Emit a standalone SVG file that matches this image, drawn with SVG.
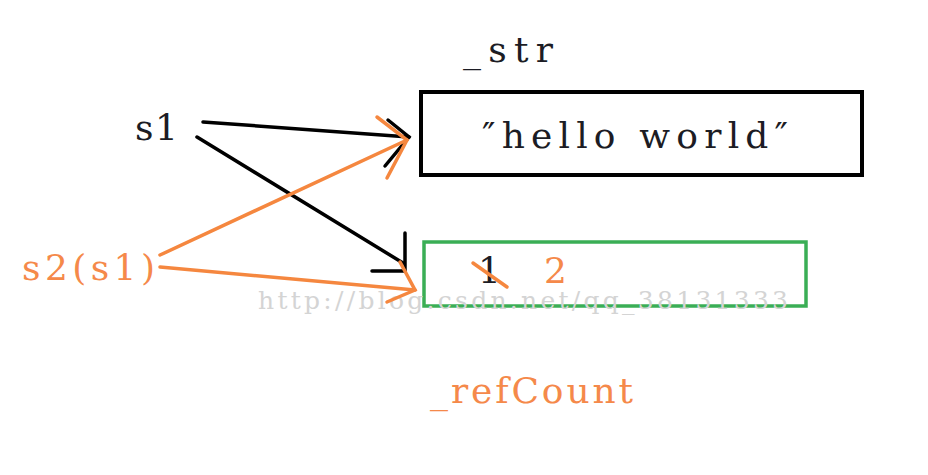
<svg xmlns="http://www.w3.org/2000/svg" width="928" height="475" viewBox="0 0 928 475">
<style>
.t{font-family:"DejaVu Serif","Liberation Serif",serif;font-size:36px}
.dk{fill:#1c1c24}
.or{fill:#f5894a}
.blk{stroke:#000;stroke-width:3.5;fill:none;stroke-linecap:round}
.org{stroke:#f5873f;stroke-width:3.5;fill:none;stroke-linecap:round}
.wm{font-family:"DejaVu Serif","Liberation Serif",serif;font-size:25px;fill:#d4d4d4}
</style>
<rect width="928" height="475" fill="#fff"/>
<g id="str-node">
<text class="t dk" x="463" y="62" textLength="90">_str</text>
<rect x="421" y="92" width="441" height="83" fill="none" stroke="#000" stroke-width="4"/>
<text class="t dk" x="482" y="148" textLength="306">″hello world″</text>
</g>
<g id="refcount-node">
<rect x="424" y="242" width="382" height="64" fill="none" stroke="#3aae55" stroke-width="3.5"/>
<text class="t dk" x="478" y="283">1</text>
<line class="org" x1="473" y1="263" x2="507" y2="287"/>
<text class="t or" x="544" y="283">2</text>
<text class="t or" x="430" y="403" textLength="203">_refCount</text>
</g>
<g id="s1">
<text class="t dk" x="135" y="140" textLength="43">s1</text>
</g>
<g id="s2">
<text class="t or" x="22" y="280" textLength="133">s2(s1)</text>
</g>
<text class="wm" x="258" y="309" textLength="530">http://blog.csdn.net/qq_38131333</text>
<g id="connectors">
<line class="blk" x1="203" y1="122" x2="409" y2="137"/>
<polyline class="blk" points="388,120 409,137 385,166"/>
<line class="blk" x1="197" y1="137" x2="403" y2="263"/>
<polyline class="blk" points="405,233 405,271 372,271"/>
<line class="org" x1="160" y1="255" x2="407" y2="140"/>
<polyline class="org" points="377,117 407,140 387,178"/>
<line class="org" x1="160" y1="267" x2="415" y2="290"/>
<polyline class="org" points="400,262 415,290 387,302"/>
</g>
</svg>
